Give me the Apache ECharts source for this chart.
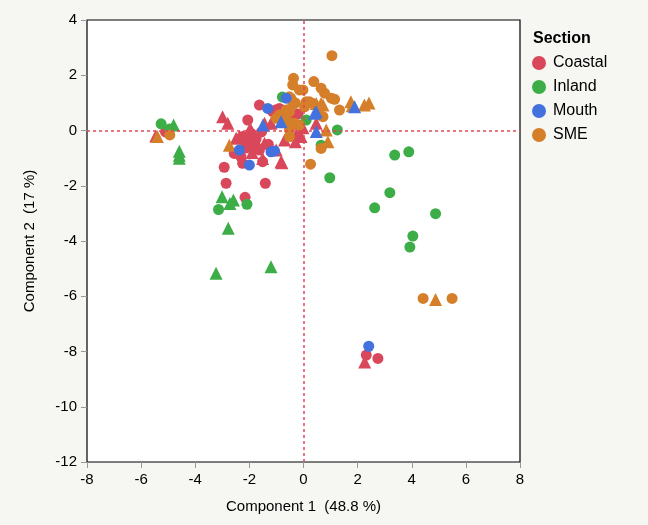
<!DOCTYPE html>
<html><head><meta charset="utf-8">
<script src="https://cdn.jsdelivr.net/npm/echarts@6/dist/echarts.min.js"></script>
<style>html,body{margin:0;padding:0;background:#f6f6f2;}#c{width:648px;height:525px;}</style>
</head><body><div id="c"></div>
<script>
var sections = ['Coastal','Inland','Mouth','SME'];
var xTicks = [-8,-6,-4,-2,0,2,4,6,8];
var yTicks = [-12,-10,-8,-6,-4,-2,0,2,4];
var coastalCircles = [[-5.1,-0.05],[-2.93,-1.33],[-2.86,-1.91],[-1.41,-1.91],[-2.16,-2.42],[-1.63,0.92],[-2.06,0.38],[-1.14,0.68],[-0.89,0.8],[-1.04,0.74],[-2.12,-0.34],[-1.88,-0.53],[-2.31,-0.95],[-1.63,-0.71],[-2.25,-0.22],[-2.56,-0.83],[-2.25,-1.19],[-1.51,-1.13],[-1.75,-0.3],[-1.3,-0.5],[-0.45,0.55],[-0.2,0.6],[2.32,-8.13],[2.75,-8.25],[-1.95,-0.1],[-1.55,-0.05]];
var coastalTriangles = [[-5.46,-0.2],[-2.99,0.5],[-2.8,0.26],[-1.44,0.26],[-0.3,-0.41],[-0.7,-0.34],[-0.4,0.26],[-1.75,-0.41],[-1.44,-0.46],[-1.01,-0.71],[-0.83,-1.13],[-2.49,-0.28],[-2.0,0.02],[-2.25,-0.59],[-1.51,-1.01],[-0.8,-1.17],[-1.2,0.26],[-0.27,-0.16],[0.47,0.26],[-0.02,0.1],[-0.09,-0.22],[-2.37,-0.22],[-1.94,0.02],[-1.75,-0.59],[2.26,-8.38],[-1.9,-0.8],[-2.1,-0.55]];
var inlandCircles = [[-5.26,0.24],[-4.95,0.05],[-3.14,-2.86],[-2.09,-2.67],[-0.78,1.21],[1.25,0.02],[0.65,-0.53],[0.1,0.38],[0.97,-1.71],[3.37,-0.89],[3.89,-0.77],[3.19,-2.25],[2.63,-2.8],[4.88,-3.01],[4.04,-3.82],[3.93,-4.22]];
var inlandTriangles = [[-4.8,0.2],[-4.59,-0.75],[-4.59,-0.9],[-4.59,-1.0],[-3.01,-2.4],[-2.59,-2.52],[-2.72,-2.64],[-2.78,-3.54],[-3.23,-5.17],[-1.2,-4.93]];
var mouthCircles = [[2.41,-7.81],[-0.64,1.17],[-1.32,0.8],[-2.0,-1.25],[-1.2,-0.77],[-2.37,-0.71],[-1.07,-0.74]];
var mouthTriangles = [[-1.5,0.2],[-0.83,0.32],[0.47,0.68],[0.47,-0.04],[1.89,0.86],[0.41,0.62]];
var smeCircles = [[1.05,2.71],[4.42,-6.08],[5.49,-6.08],[0.26,-1.22],[0.65,-0.65],[-0.37,1.89],[-0.4,1.65],[-0.15,1.47],[0.38,1.77],[0.65,1.53],[0.78,1.35],[1.03,1.17],[1.15,1.13],[1.33,0.74],[-0.02,1.47],[-0.52,1.22],[0.22,1.04],[0.04,0.86],[0.35,0.98],[0.59,0.56],[0.72,0.5],[-0.52,0.68],[-0.77,0.56],[-1.01,0.44],[-0.58,0.32],[-0.33,0.26],[-0.15,0.2],[-0.89,0.56],[-0.64,0.74],[-0.4,0.92],[0.1,1.04],[-0.52,0.02],[-0.52,-0.22],[-4.94,-0.16],[-0.3,1.0]];
var smeTriangles = [[-5.4,-0.22],[4.88,-6.12],[0.9,-0.41],[0.47,0.98],[0.72,0.92],[1.75,1.04],[1.8,0.9],[2.25,0.92],[2.42,1.0],[-2.74,-0.53],[0.84,0.02],[0.65,0.98],[-0.33,1.1]];

var colors = {Coastal:'#d9485a', Inland:'#3dad47', Mouth:'#4371de', SME:'#d67f2b'};
var FONT = 'Liberation Sans, Arial, Helvetica, sans-serif';

function sc(name, data, sym, z){
  return {type:'scatter', name:name, data:data, symbol:sym, symbolSize: sym==='triangle'?13:11,
    itemStyle:{color:colors[name], opacity:1}, z:z, emphasis:{disabled:true}};
}

var chart = echarts.init(document.getElementById('c'), null, {renderer:'canvas'});
chart.setOption({
  backgroundColor:'#f6f6f2',
  animation:false,
  textStyle:{fontFamily:FONT},
  title:{text:'Section', left:528, top:26, textStyle:{fontFamily:FONT, fontSize:16, fontWeight:'bold', color:'#000'}},
  legend:{orient:'vertical', left:527, top:50, itemGap:8, itemWidth:14, itemHeight:14,
    textStyle:{fontFamily:FONT, fontSize:16, color:'#000', padding:[0,0,0,2]},
    data:sections.map(function(s){return {name:s, icon:'circle'};})},
  grid:{left:87, right:128, top:20, bottom:63, show:true, backgroundColor:'#fff', borderColor:'#000', borderWidth:1.2},
  xAxis:{type:'value', min:xTicks[0], max:xTicks[xTicks.length-1], interval:2,
    name:'Component 1  (48.8 %)', nameLocation:'middle', nameGap:37,
    nameTextStyle:{fontFamily:FONT, fontSize:15, color:'#000'},
    axisLine:{show:false, onZero:false}, splitLine:{show:false},
    axisTick:{show:true, length:6, lineStyle:{color:'#999'}},
    axisLabel:{fontFamily:FONT, fontSize:15, color:'#000', margin:10}},
  yAxis:{type:'value', min:yTicks[0], max:yTicks[yTicks.length-1], interval:2,
    name:'Component 2  (17 %)', nameLocation:'middle', nameGap:50, nameRotate:90,
    nameTextStyle:{fontFamily:FONT, fontSize:15, color:'#000'},
    axisLine:{show:false, onZero:false}, splitLine:{show:false},
    axisTick:{show:true, length:6, lineStyle:{color:'#999'}},
    axisLabel:{fontFamily:FONT, fontSize:15, color:'#000', margin:10}},
  series:[
    {type:'scatter', data:[], z:1, silent:true,
      markLine:{silent:true, symbol:'none', label:{show:false}, animation:false,
        lineStyle:{color:'#e0485a', type:[3,3], width:1.5},
        data:[{xAxis:0},{yAxis:0}]}},
    sc('Coastal', coastalCircles, 'circle', 2),
    sc('Coastal', coastalTriangles, 'triangle', 2),
    sc('Inland', inlandCircles, 'circle', 3),
    sc('Inland', inlandTriangles, 'triangle', 3),
    sc('SME', smeCircles, 'circle', 4),
    sc('SME', smeTriangles, 'triangle', 4),
    sc('Mouth', mouthCircles, 'circle', 5),
    sc('Mouth', mouthTriangles, 'triangle', 5)
  ]
});
</script></body></html>
